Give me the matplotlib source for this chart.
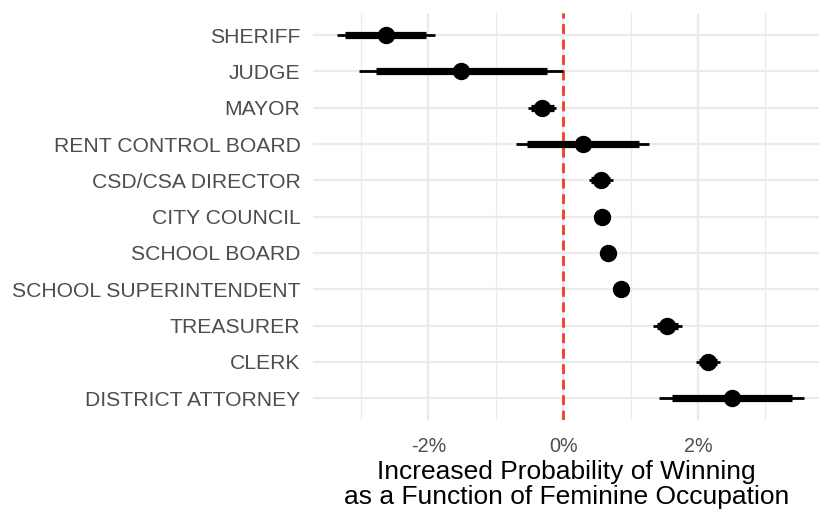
import matplotlib

matplotlib.use("Agg")
import matplotlib.pyplot as plt
from matplotlib.ticker import FuncFormatter, MultipleLocator


offices = [
    "SHERIFF", "JUDGE", "MAYOR", "RENT CONTROL BOARD", "CSD/CSA DIRECTOR",
    "CITY COUNCIL", "SCHOOL BOARD", "SCHOOL SUPERINTENDENT", "TREASURER",
    "CLERK", "DISTRICT ATTORNEY",
]
# estimates in percentage points
estimate = [-2.63, -1.51, -0.31, 0.29, 0.56, 0.57, 0.67, 0.86, 1.54, 2.15, 2.50]
# outer (thin) interval
lo_outer = [-3.35, -3.03, -0.52, -0.70, 0.38, 0.52, 0.62, 0.81, 1.34, 1.97, 1.42]
hi_outer = [-1.90, 0.00, -0.11, 1.28, 0.74, 0.62, 0.72, 0.91, 1.76, 2.32, 3.58]
# inner (thick) interval
lo_inner = [-3.24, -2.78, -0.48, -0.54, 0.42, 0.54, 0.64, 0.83, 1.39, 2.01, 1.61]
hi_inner = [-2.03, -0.24, -0.14, 1.12, 0.70, 0.60, 0.70, 0.89, 1.71, 2.28, 3.40]

plt.rcParams["font.family"] = ["Liberation Sans", "DejaVu Sans"]

fig = plt.figure(figsize=(8.2, 5.11), dpi=100)
ax = fig.add_axes([0.3817, 0.178, 0.6183, 0.796])

n = len(offices)
ypos = [n - i for i in range(n)]

ax.axvline(0, color="#F4432F", linestyle=(0, (3.4, 1.9)), linewidth=2.1, zorder=2)

ax.hlines(ypos, lo_outer, hi_outer, color="black", linewidth=2.0, zorder=3)
ax.hlines(ypos, lo_inner, hi_inner, color="black", linewidth=5.2, zorder=3)
ax.plot(estimate, ypos, "o", color="black", markersize=11.5, zorder=4)

ax.set_xlim(-3.71, 3.81)
ax.set_ylim(0.4, n + 0.6)
ax.set_yticks(ypos)
ax.set_yticklabels(offices)
ax.xaxis.set_major_locator(MultipleLocator(2))
ax.xaxis.set_minor_locator(MultipleLocator(1))
ax.xaxis.set_major_formatter(FuncFormatter(lambda v, p: f"{v:.0f}%"))

ax.grid(which="major", axis="both", color="#EBEBEB", linewidth=1.6, zorder=0)
ax.grid(which="minor", axis="x", color="#EBEBEB", linewidth=0.9, zorder=0)
ax.set_axisbelow(True)
for s in ax.spines.values():
    s.set_visible(False)

ax.tick_params(axis="both", which="both", length=0, labelcolor="#4D4D4D")
ax.tick_params(axis="y", labelsize=15.2, pad=9)
ax.tick_params(axis="x", labelsize=14.2, pad=12)

ax.set_xlabel("Increased Probability of Winning\nas a Function of Feminine Occupation",
              fontsize=19.0, color="black", linespacing=1.06, labelpad=3)

fig.savefig("out.png", dpi=100)
plt.close(fig)
